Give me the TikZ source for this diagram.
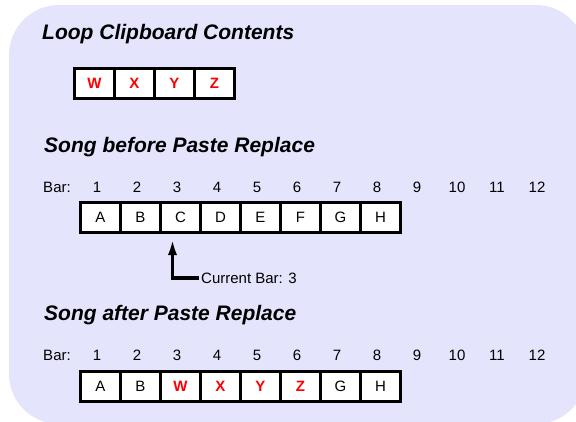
\documentclass[tikz,border=0pt]{standalone}
\usepackage{fontspec}
\setmainfont{Liberation Sans}
\usetikzlibrary{positioning,arrows.meta}

\definecolor{panelblue}{RGB}{228,228,252}

\tikzset{
    cell/.style={draw, line width=3pt, fill=white, minimum width=40pt, minimum height=30pt, inner sep=0pt, outer sep=0pt, font=\fontsize{15}{18}\selectfont},
    pasted/.style={text=red, font=\fontsize{15}{18}\selectfont\bfseries},
    heading/.style={anchor=base west, inner sep=0pt, font=\fontsize{21}{25}\selectfont\bfseries\itshape},
    barno/.style={anchor=base, inner sep=0pt, font=\fontsize{15}{18}\selectfont}
}

\begin{document}
\begin{tikzpicture}[x=1pt, y=-1pt, >={Latex[length=17pt,width=9pt]}]

    \useasboundingbox (0,0) rectangle (576,421);
    \begin{scope}
        \clip (0,0) rectangle (576,421);
        \fill[panelblue, rounded corners=50pt] (9,5) rectangle (586,424);
    \end{scope}

    % clipboard
    \node[heading] (cliphead) at (42,39) {Loop Clipboard Contents};
    \node[cell, pasted] (clip1) at (94.5,83.5) {W};
    \node[cell, pasted, right=0pt of clip1] (clip2) {X};
    \node[cell, pasted, right=0pt of clip2] (clip3) {Y};
    \node[cell, pasted, right=0pt of clip3] (clip4) {Z};

    % before
    \node[heading] (prehead) at (44,152) {Song before Paste Replace};
    \node[barno] (prebar) at (57,192) {Bar:};
    \foreach \n in {1,...,12}
        \node[barno] (prebar\n) at (57+40*\n,192) {\n};
    \foreach \l [count=\i] in {A,B,C,D,E,F,G,H}
        \node[cell] (pre\i) at (60.5+40*\i,217.5) {\l};

    \node[barno, anchor=base west] (curbar) at (201,283) {Current Bar: 3};
    \draw[->, line width=3.5pt] ([xshift=-2pt]curbar.west) -| ([xshift=-8pt,yshift=-5.5pt]pre3.south);

    % after
    \node[heading] (posthead) at (44,320) {Song after Paste Replace};
    \node[barno] (postbar) at (57,360) {Bar:};
    \foreach \n in {1,...,12}
        \node[barno] (postbar\n) at (57+40*\n,360) {\n};
    \foreach \l/\s [count=\i] in {A/,B/,W/pasted,X/pasted,Y/pasted,Z/pasted,G/,H/}
        \node[cell, \s] (post\i) at (60.5+40*\i,386.5) {\l};

\end{tikzpicture}
\end{document}
